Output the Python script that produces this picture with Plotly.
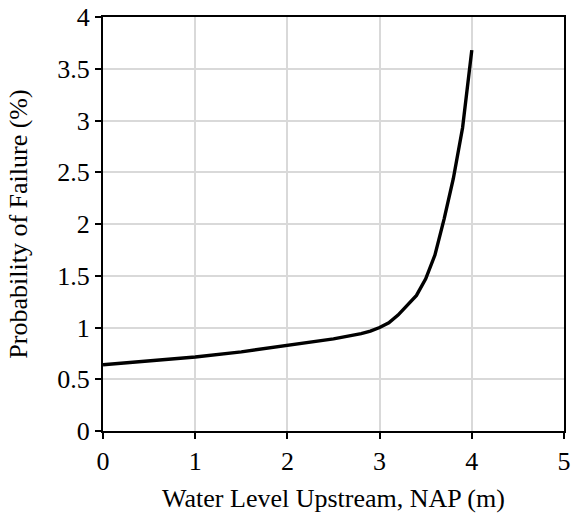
import plotly.graph_objects as go

water_level = [0.0, 0.5, 1.0, 1.5, 2.0, 2.5, 2.8, 2.9, 3.0, 3.1, 3.2, 3.3, 3.4, 3.5, 3.6, 3.7, 3.8, 3.9, 4.0]
prob_failure = [0.64, 0.675, 0.715, 0.765, 0.825, 0.89, 0.94, 0.965, 1.0, 1.045, 1.12, 1.21, 1.31, 1.47, 1.70, 2.05, 2.44, 2.93, 3.68]

x_ticks = [0, 1, 2, 3, 4, 5]
y_ticks = [0, 0.5, 1, 1.5, 2, 2.5, 3, 3.5, 4]
y_tick_labels = ["0", "0.5", "1", "1.5", "2", "2.5", "3", "3.5", "4"]

font_family = "Liberation Serif, Times New Roman, serif"
fs = 26

fig = go.Figure()
fig.add_trace(go.Scatter(x=water_level, y=prob_failure, mode="lines",
                         line=dict(color="black", width=3.4), showlegend=False))

axis_common = dict(
    showline=True, linecolor="black", linewidth=2, mirror=True,
    showgrid=True, gridcolor="#d9d9d9", gridwidth=1.5,
    ticks="outside", ticklen=6, tickwidth=2, tickcolor="black",
    zeroline=False, ticklabeloverflow="allow",
    tickfont=dict(family=font_family, size=fs, color="black"),
)

fig.update_layout(
    width=574, height=516,
    margin=dict(l=103, r=3, t=17, b=85),
    paper_bgcolor="white", plot_bgcolor="white",
    font=dict(family=font_family, size=fs, color="black"),
    xaxis=dict(range=[0, 5], tickvals=x_ticks,
               title=dict(text="Water Level Upstream, NAP (m)", font=dict(family=font_family, size=fs), standoff=14),
               **axis_common),
    yaxis=dict(range=[0, 4], tickvals=y_ticks, ticktext=y_tick_labels,
               title=dict(text="Probability of Failure (%)", font=dict(family=font_family, size=fs), standoff=22),
               **axis_common),
)

fig.write_html("out.html", config={"displayModeBar": False},
               post_script="document.body.style.margin='0';document.body.style.overflow='hidden';")
